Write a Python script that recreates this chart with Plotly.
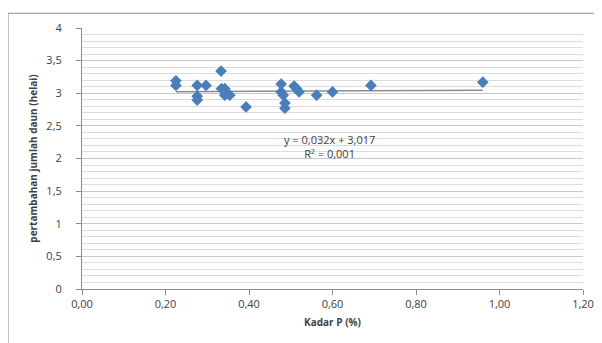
import plotly.graph_objects as go

kadar_p = [0.225, 0.225, 0.276, 0.276, 0.276, 0.297, 0.333, 0.334, 0.342, 0.342, 0.354,
           0.393, 0.477, 0.477, 0.482, 0.486, 0.486, 0.508, 0.514, 0.520, 0.562, 0.600,
           0.692, 0.960]
daun = [3.19, 3.12, 3.12, 2.955, 2.895, 3.12, 3.34, 3.07, 3.07, 2.97, 2.97,
        2.79, 3.14, 3.02, 2.97, 2.85, 2.77, 3.11, 3.07, 3.02, 2.97, 3.02,
        3.12, 3.17]

slope = 0.032
intercept = 3.017
trend_x = [min(kadar_p), max(kadar_p)]
trend_y = [slope * v + intercept for v in trend_x]

x_ticks = [0.0, 0.2, 0.4, 0.6, 0.8, 1.0, 1.2]
y_ticks = [0, 0.5, 1, 1.5, 2, 2.5, 3, 3.5, 4]
y_ticktext = ["0", "0,5", "1", "1,5", "2", "2,5", "3", "3,5", "4"]

font_family = "Open Sans, Liberation Sans, sans-serif"
txt = "#404040"

fig = go.Figure()
fig.add_trace(go.Scatter(x=trend_x, y=trend_y, mode="lines",
                         line=dict(color="#8c8c8c", width=1.5), hoverinfo="skip"))
fig.add_trace(go.Scatter(x=kadar_p, y=daun, mode="markers",
                         marker=dict(symbol="diamond", size=9, color="#4a7ebb")))

L, R, T, B = 74, 27, 15, 62
PW, PH = 602 - L - R, 343 - T - B

fig.update_layout(
    width=602, height=343,
    margin=dict(l=L, r=R, t=T, b=B),
    paper_bgcolor="white", plot_bgcolor="white",
    showlegend=False,
    separators=",.",
    font=dict(family=font_family, size=11, color=txt),
    xaxis=dict(range=[0, 1.2], tickvals=x_ticks, tickformat=".2f",
               showgrid=False, zeroline=False, showline=True, linecolor="#8c8c8c",
               ticks="outside", ticklen=5, tickcolor="#8c8c8c",
               tickfont=dict(size=11, color=txt),
               title=dict(text="<b>Kadar P (%)</b>", font=dict(size=10, color=txt), standoff=8)),
    yaxis=dict(range=[0, 4], tickvals=y_ticks, ticktext=y_ticktext,
               showgrid=True, gridcolor="#c8c8c8", gridwidth=1,
               minor=dict(dtick=0.1, showgrid=True, gridcolor="#dcdcdc", gridwidth=1),
               zeroline=False, showline=True, linecolor="#8c8c8c",
               ticks="outside", ticklen=5, tickcolor="#8c8c8c",
               ticklabelstandoff=12,
               tickfont=dict(size=11, color=txt),
               title=dict(text="<b>pertambahan jumlah daun (helai)</b>", font=dict(size=10, color=txt), standoff=6)),
    annotations=[
        dict(x=0.594, y=2.19, xref="x", yref="y", text="y = 0,032x + 3,017<br>R² = 0,001",
             showarrow=False, font=dict(size=11, color=txt), align="center"),
    ],
    shapes=[
        dict(type="rect", xref="paper", yref="paper",
             x0=(0 - L) / PW, x1=(592 - L) / PW,
             y0=-(B + 20) / PH, y1=(PH + T) / PH,
             line=dict(color="#8c8c8c", width=1), layer="below"),
    ],
)

fig.write_html("out.html")
